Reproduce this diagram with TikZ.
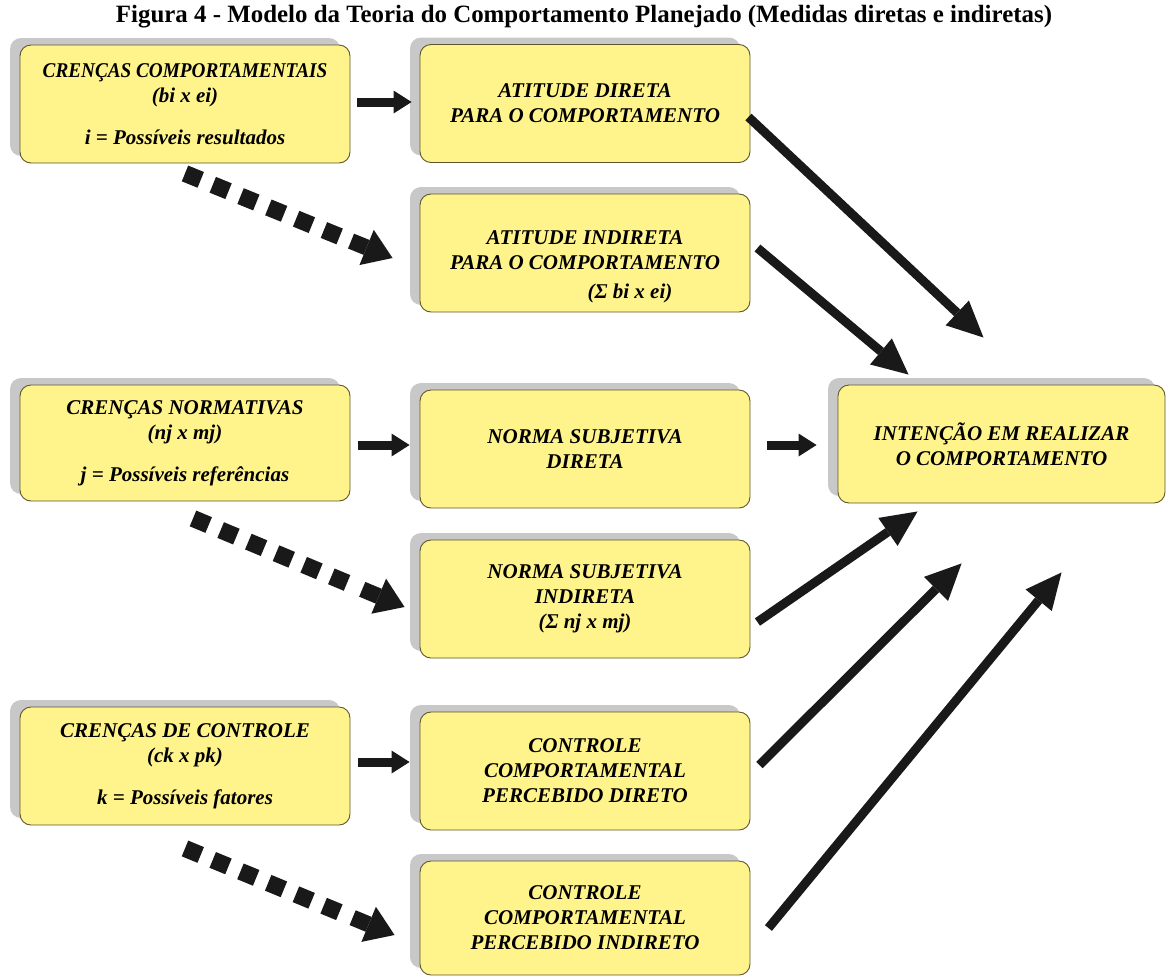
\documentclass[tikz,border=0pt]{standalone}
\usepackage{fontspec}
\usepackage{graphicx}
\setmainfont{Liberation Serif}
\usetikzlibrary{arrows.meta,calc,shadows}
\definecolor{boxyellow}{RGB}{255,244,140}
\definecolor{boxborder}{RGB}{95,85,45}
\definecolor{shadowgray}{RGB}{200,200,200}
\definecolor{arrowblack}{RGB}{25,25,25}
\begin{document}
\begin{tikzpicture}[x=1pt,y=-1pt,
  box/.style={draw=boxborder, line width=0.9pt, fill=boxyellow, rounded corners=11pt,
    minimum width=330pt, minimum height=118pt, inner sep=0pt, align=center,
    font=\bfseries\itshape\fontsize{21}{25}\selectfont,
    general shadow={fill=shadowgray, shadow xshift=-10pt, shadow yshift=7pt}},
  boxtext/.style={inner sep=0pt, align=center, font=\bfseries\itshape\fontsize{21}{25}\selectfont},
  sarrow/.style={draw=arrowblack, line width=9pt, -{Triangle[length=18pt,width=23pt,line width=0pt]}},
  larrow/.style={draw=arrowblack, line width=9pt, -{Triangle[length=36pt,width=34pt,line width=0pt]}},
  dsq/.style={draw=arrowblack, line width=17pt, dash pattern=on 17pt off 13pt},
  dhead/.style={draw=arrowblack, line width=16pt, -{Triangle[length=28pt,width=38pt,line width=0pt]}}
]
\useasboundingbox (0,0) rectangle (1168,978);

\node[anchor=base, font=\bfseries\fontsize{24.9}{28}\selectfont] (title) at (584,22)
  {Figura 4 - Modelo da Teoria do Comportamento Planejado (Medidas diretas e indiretas)};

% left column
\node[box] (l1) at (185,104) {\scalebox{0.915}[1]{CRENÇAS COMPORTAMENTAIS}\\(bi x ei)\\[17pt]i = Possíveis resultados};
\node[box, minimum height=116pt] (l2) at (185,443) {CRENÇAS NORMATIVAS\\(nj x mj)\\[17pt]j = Possíveis referências};
\node[box] (l3) at (185,766) {CRENÇAS DE CONTROLE\\(ck x pk)\\[17pt]k = Possíveis fatores};

% middle column
\node[box] (m1) at (585,103.5) {ATITUDE DIRETA\\PARA O COMPORTAMENTO};
\node[box] (m2) at (585,253) {};
\node[boxtext] (m2t) at ($(m2.center)+(0,14)$) {ATITUDE INDIRETA\\PARA O COMPORTAMENTO\\[4pt]\hspace*{90pt}(Σ bi x ei)};
\node[box] (m3) at (585,449) {NORMA SUBJETIVA\\DIRETA};
\node[box] (m4) at (585,599) {NORMA SUBJETIVA\\INDIRETA\\(Σ nj x mj)};
\node[box] (m5) at (585,771) {CONTROLE\\COMPORTAMENTAL\\PERCEBIDO DIRETO};
\node[box, minimum height=114pt] (m6) at (585,918) {CONTROLE\\COMPORTAMENTAL\\PERCEBIDO INDIRETO};

% right
\node[box, minimum width=327pt] (int) at (1001.5,444) {INTENÇÃO EM REALIZAR\\O COMPORTAMENTO};

% short arrows
\draw[sarrow, shorten <=7pt, shorten >=8pt] ($(l1.east)+(0,-2)$) -- ($(l1.east -| m1.west)+(0,-2)$);
\draw[sarrow, shorten <=8pt, shorten >=10pt] ($(l2.east)+(0,2)$) -- ($(l2.east -| m3.west)+(0,2)$);
\draw[sarrow, shorten <=8pt, shorten >=10pt] ($(l3.east)+(0,-4)$) -- ($(l3.east -| m5.west)+(0,-4)$);
\draw[sarrow, shorten <=17pt, shorten >=21pt] ($(m3.east)+(0,-4)$) -- ($(m3.east -| int.west)+(0,-4)$);

% dashed arrows
\coordinate (d1s) at ($(l1.south)+(0,10)$);
\coordinate (d1t) at ($(m2.west)+(-27,5)$);
\draw[dsq] (d1s) -- ($(d1s)!0.76!(d1t)$);
\draw[dhead] ($(d1s)!0.80!(d1t)$) -- (d1t);

\coordinate (d2s) at ($(l2.south)+(8,17)$);
\coordinate (d2t) at ($(m4.west)+(-15,8)$);
\draw[dsq] (d2s) -- ($(d2s)!0.76!(d2t)$);
\draw[dhead] ($(d2s)!0.80!(d2t)$) -- (d2t);

\coordinate (d3s) at ($(l3.south)+(0,23)$);
\coordinate (d3t) at ($(m6.west)+(-25,17)$);
\draw[dsq] (d3s) -- ($(d3s)!0.76!(d3t)$);
\draw[dhead] ($(d3s)!0.80!(d3t)$) -- (d3t);

% long arrows to intention
\draw[larrow] ($(m1.east)+(-2,13.5)$) -- ($(int.north)+(-18,-47)$);
\draw[larrow] ($(m2.east)+(7,-5)$) -- ($(int.north west)+(71,-10)$);
\draw[larrow] ($(m4.east)+(7,23)$) -- ($(int.south west)+(80,8)$);
\draw[larrow] ($(m5.east)+(9,-6)$) -- ($(int.south west)+(124,60)$);
\draw[larrow] ($(m6.east)+(18,10)$) -- ($(int.south west)+(224,69)$);
\end{tikzpicture}
\end{document}
